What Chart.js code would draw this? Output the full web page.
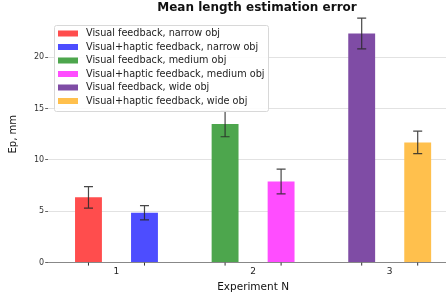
<!DOCTYPE html>
<html>
<head>
<meta charset="utf-8">
<script src="https://cdn.jsdelivr.net/npm/chart.js@4"></script>
<style>
  body { margin: 0; background: #fff; overflow: hidden; }
</style>
</head>
<body>
<canvas id="errChart" width="458" height="294"></canvas>
<script>
const experiments = ['1', '2', '3'];
const seriesLabels = [
    'Visual feedback, narrow obj',
    'Visual+haptic feedback, narrow obj',
    'Visual feedback, medium obj',
    'Visual+haptic feedback, medium obj',
    'Visual feedback, wide obj',
    'Visual+haptic feedback, wide obj'
];
const meanError = [6.35, 4.85, 13.5, 7.9, 22.3, 11.7];
const errSpread = [1.05, 0.7, 1.25, 1.2, 1.5, 1.1];
const experimentOf = [0, 0, 1, 1, 2, 2];
const yTicks = [0, 5, 10, 15, 20];
const colors = ['#ff4d4d', '#4d4dff', '#4da64d', '#ff4dff', '#7f4ca5', '#ffc04d'];

// one dataset per series, only one experiment filled in
const datasets = seriesLabels.map((label, i) => ({
    label: label,
    data: experiments.map((e, j) => j === experimentOf[i] ? meanError[i] : null),
    err: errSpread[i],
    backgroundColor: colors[i],
    borderWidth: 0
}));

const errorBars = {
    id: 'errorBars',
    afterDatasetsDraw(chart) {
        const ctx = chart.ctx;
        const y = chart.scales.y;
        ctx.save();
        ctx.lineWidth = 1.2;
        chart.data.datasets.forEach((ds, i) => {
            chart.getDatasetMeta(i).data.forEach((bar, j) => {
                const v = ds.data[j];
                if (v === null) return;
                const top = y.getPixelForValue(v + ds.err);
                const bot = y.getPixelForValue(v - ds.err);
                ctx.strokeStyle = 'rgba(40,40,40,0.85)';
                ctx.beginPath();
                ctx.moveTo(bar.x, top); ctx.lineTo(bar.x, bot);
                ctx.moveTo(bar.x - 4.5, top); ctx.lineTo(bar.x + 4.5, top);
                ctx.moveTo(bar.x - 4.5, bot); ctx.lineTo(bar.x + 4.5, bot);
                ctx.stroke();
                // small tick under the bar
                ctx.strokeStyle = '#333';
                ctx.lineWidth = 1;
                ctx.beginPath();
                ctx.moveTo(bar.x, y.bottom); ctx.lineTo(bar.x, y.bottom + 3);
                ctx.stroke();
                ctx.lineWidth = 1.2;
            });
        });
        ctx.restore();
    }
};

const boxLegend = {
    id: 'boxLegend',
    afterDatasetsDraw(chart) {
        const ctx = chart.ctx;
        ctx.save();
        ctx.fillStyle = 'rgba(255,255,255,0.9)';
        ctx.strokeStyle = '#d8d8d8';
        ctx.lineWidth = 1;
        ctx.beginPath();
        ctx.roundRect(54.5, 25.5, 214, 86, 2);
        ctx.fill();
        ctx.stroke();
        ctx.font = '9.7px "DejaVu Sans"';
        ctx.textBaseline = 'middle';
        chart.data.datasets.forEach((ds, i) => {
            const ry = 33.5 + i * 13.5;
            ctx.fillStyle = ds.backgroundColor;
            ctx.fillRect(58, ry - 3, 20, 6);
            ctx.fillStyle = '#222';
            ctx.fillText(ds.label, 86, ry);
        });
        ctx.fillStyle = '#111';
        ctx.font = 'bold 12px "DejaVu Sans"';
        ctx.textAlign = 'center';
        ctx.fillText('Mean length estimation error', 257, 8);
        ctx.restore();
    }
};

new Chart(document.getElementById('errChart').getContext('2d'), {
    type: 'bar',
    data: { labels: experiments, datasets: datasets },
    options: {
        responsive: false,
        devicePixelRatio: 1,
        animation: false,
        skipNull: true,
        categoryPercentage: 0.82,
        barPercentage: 0.48,
        layout: { padding: { left: 7, right: 0, top: 0, bottom: 0 } },
        plugins: { legend: { display: false }, tooltip: { enabled: false } },
        scales: {
            x: {
                grid: { display: false, drawTicks: false },
                border: { display: true, color: '#888', width: 1 },
                ticks: { color: '#222', font: { family: 'DejaVu Sans', size: 9 }, padding: 4 },
                title: { display: true, text: 'Experiment N', color: '#111',
                    font: { family: 'DejaVu Sans', size: 10.5 }, padding: { top: 0, bottom: 0 } }
            },
            y: {
                min: 0,
                max: 25,
                afterBuildTicks: axis => { axis.ticks = yTicks.map(v => ({ value: v })); },
                grid: {
                    color: c => c.tick.value === 0 ? 'rgba(0,0,0,0)' : '#e2e2e2',
                    tickColor: '#666',
                    tickLength: 3
                },
                border: { display: false },
                ticks: { color: '#333', font: { family: 'DejaVu Sans', size: 8 }, padding: 1 },
                title: { display: true, text: 'Ep, mm', color: '#111',
                    font: { family: 'DejaVu Sans', size: 10 }, padding: { top: 0, bottom: 14 } }
            }
        }
    },
    plugins: [errorBars, boxLegend]
});
</script>
</body>
</html>
